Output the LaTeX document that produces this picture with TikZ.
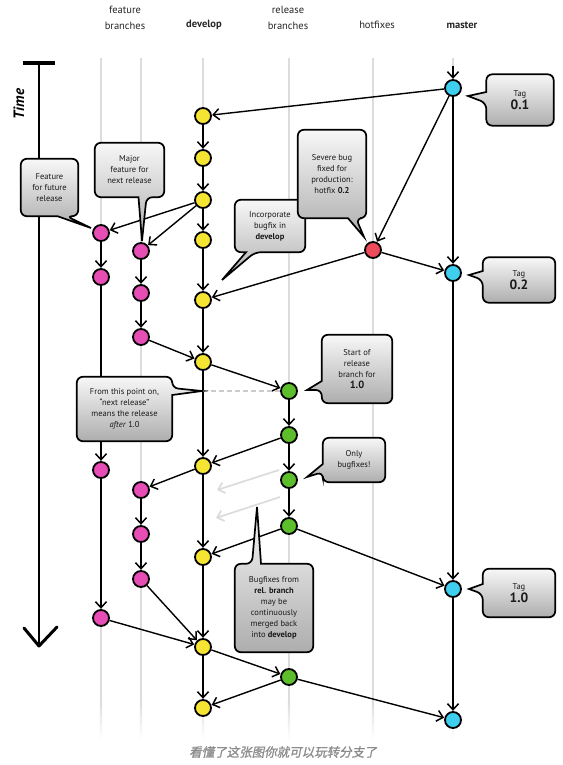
\documentclass[tikz,border=0pt]{standalone}
\usepackage{fontspec}
\setmainfont{PT Sans}
\newfontfamily\cjkfont[FakeSlant=0.2,FakeBold=1.2]{Noto Sans CJK SC}
\usetikzlibrary{arrows.meta,calc}
\definecolor{cyel}{HTML}{F6E432}
\definecolor{cmag}{HTML}{E64DB5}
\definecolor{cgrn}{HTML}{5DBE2C}
\definecolor{ccya}{HTML}{3ECFEE}
\definecolor{cred}{HTML}{EC4B5B}
\definecolor{lanec}{HTML}{DCDCDC}
\pgfdeclarelayer{graph}
\pgfdeclarelayer{cshape}
\pgfsetlayers{graph,cshape,main}
% callout outlines: name, base offset 1, base offset 2, tip
\newcommand\cbL[4]{\path[cbox] (#1.north) [rounded corners=6pt] -- (#1.north east) -- (#1.south east) -- (#1.south west) -- ($(#1.west)+(0,#3)$) [sharp corners] -- #4 -- ($(#1.west)+(0,#2)$) [rounded corners=6pt] -- (#1.north west) -- cycle;}
\newcommand\cbR[4]{\path[cbox] (#1.north) [rounded corners=6pt] -- (#1.north east) -- ($(#1.east)+(0,#2)$) [sharp corners] -- #4 -- ($(#1.east)+(0,#3)$) [rounded corners=6pt] -- (#1.south east) -- (#1.south west) -- (#1.north west) -- cycle;}
\newcommand\cbB[4]{\path[cbox] (#1.north) [rounded corners=6pt] -- (#1.north east) -- (#1.south east) -- ($(#1.south)+(#3,0)$) [sharp corners] -- #4 -- ($(#1.south)+(#2,0)$) [rounded corners=6pt] -- (#1.south west) -- (#1.north west) -- cycle;}
\newcommand\cbT[4]{\path[cbox] (#1.south) [rounded corners=6pt] -- (#1.south west) -- (#1.north west) -- ($(#1.north)+(#2,0)$) [sharp corners] -- #4 -- ($(#1.north)+(#3,0)$) [rounded corners=6pt] -- (#1.north east) -- (#1.south east) -- cycle;}
\begin{document}
\begin{tikzpicture}[x=1pt,y=-1pt,
  commit/.style={circle, draw=black, line width=1.8pt, minimum size=16pt, inner sep=0pt},
  dv/.style={commit, fill=cyel},
  ft/.style={commit, fill=cmag},
  rl/.style={commit, fill=cgrn},
  ms/.style={commit, fill=ccya},
  hx/.style={commit, fill=cred},
  flow/.style={line width=1.4pt, -{Straight Barb[length=6pt,width=11pt,line width=1.5pt]}, shorten >=0.3pt},
  ghost/.style={draw=black!14, line width=1.7pt, -{Straight Barb[length=6pt,width=11pt,line width=1.7pt]}},
  cbox/.style={draw=black, line width=1.7pt, top color=black!3, bottom color=black!32},
  ctext/.style={font=\fontsize{8.5}{11}\selectfont, align=center, inner sep=0pt, text=black!90},
  hdr/.style={font=\fontsize{10.5}{15.5}\selectfont, align=center, text=black!85}]
\useasboundingbox (0,0) rectangle (562,765);

\begin{pgfonlayer}{graph}
% lanes
\foreach \x in {101,141,203,289,373,453}{
  \fill[lanec] ({\x-1.2},58) rectangle ({\x+1.2},700);
  \shade[top color=lanec,bottom color=white] ({\x-1.2},700) rectangle ({\x+1.2},740);
}
% time arrow
\coordinate (t0) at (39,63);
\coordinate (t1) at (39,646);
\coordinate (tb1) at (23,63);
\coordinate (tb2) at (55,63);
\coordinate (tl) at (24,628);
\coordinate (tr) at (57,627);
\draw[line width=2.8pt] (t0) -- (t1);
\draw[line width=4.5pt] (tb1) -- (tb2);
\draw[line width=3pt, line join=round, line cap=round] (tl) -- (t1) -- (tr);

% commits
\node[ms] (m0) at (453,88) {};
\node[ms] (m1) at (453,273) {};
\node[ms] (m2) at (453,589) {};
\node[ms] (m3) at (453,720) {};
\node[hx] (h0) at (373,250) {};
\node[dv] (d0) at (203,116) {};
\node[dv] (d1) at (203,158) {};
\node[dv] (d2) at (203,200) {};
\node[dv] (d3) at (203,240) {};
\node[dv] (d4) at (203,300) {};
\node[dv] (d5) at (203,362) {};
\node[dv] (d6) at (203,466) {};
\node[dv] (d7) at (203,557) {};
\node[dv] (d8) at (203,647) {};
\node[dv] (d9) at (203,708) {};
\node[ft] (f1a) at (101,233) {};
\node[ft] (f1b) at (101,277) {};
\node[ft] (f1c) at (101,470) {};
\node[ft] (f1d) at (101,618) {};
\node[ft] (f2a) at (141,251) {};
\node[ft] (f2b) at (141,293) {};
\node[ft] (f2c) at (141,337) {};
\node[ft] (f2d) at (141,490) {};
\node[ft] (f2e) at (141,534) {};
\node[ft] (f2f) at (141,579) {};
\node[rl] (r0) at (289,391) {};
\node[rl] (r1) at (289,435) {};
\node[rl] (r2) at (289,480) {};
\node[rl] (r3) at (289,526) {};
\node[rl] (r4) at (289,677) {};

\coordinate (mtop) at (453,66);
\coordinate (dv) at (203,391);
\coordinate (ga1s) at (279,470);
\coordinate (ga1e) at (217,490);
\coordinate (ga2s) at (280,497);
\coordinate (ga2e) at (216,518);

% connectors
\draw[flow] (mtop) -- (m0);
\draw[flow] (m0) -- (d0);
\draw[flow] (m0) -- (h0);
\draw[flow] (m0) -- (m1);
\draw[flow] (h0) -- (m1);
\draw[flow] (h0) -- (d4);
\foreach \a/\b in {d0/d1,d1/d2,d2/d3,d3/d4,d4/d5,d5/d6,d6/d7,d7/d8,d8/d9}
  \draw[flow] (\a) -- (\b);
\draw[flow] (d2) -- (f1a);
\draw[flow] (d2) -- (f2a);
\draw[flow] (f1a) -- (f1b);
\draw[flow] (f1b) -- (f1c);
\draw[flow] (f1c) -- (f1d);
\draw[flow] (f1d) -- (d8);
\draw[flow] (f2a) -- (f2b);
\draw[flow] (f2b) -- (f2c);
\draw[flow] (f2c) -- (d5);
\draw[flow] (d6) -- (f2d);
\draw[flow] (f2d) -- (f2e);
\draw[flow] (f2e) -- (f2f);
\draw[flow] (f2f) -- (d8);
\draw[flow] (d5) -- (r0);
\draw[black!20, line width=1.3pt, dash pattern=on 5pt off 3pt] (dv) -- (r0);
\draw[flow] (r0) -- (r1);
\draw[flow] (r1) -- (r2);
\draw[flow] (r2) -- (r3);
\draw[flow] (r1) -- (d6);
\draw[ghost] (ga1s) -- (ga1e);
\draw[ghost] (ga2s) -- (ga2e);
\draw[flow] (r3) -- (d7);
\draw[flow] (r3) -- (m2);
\draw[flow] (m1) -- (m2);
\draw[flow] (d8) -- (r4);
\draw[flow] (r4) -- (d9);
\draw[flow] (r4) -- (m3);
\draw[flow] (m2) -- (m3);
\end{pgfonlayer}

% headers
\node[hdr] (hfeat) at (125,18) {feature\\branches};
\node[hdr, font=\bfseries\fontsize{10.5}{15.5}\selectfont] (hdev) at (204,25) {develop};
\node[hdr] (hrel) at (288,18) {release\\branches};
\node[hdr] (hhot) at (377,25) {hotfixes};
\node[hdr, font=\bfseries\fontsize{10.5}{15.5}\selectfont] (hmas) at (462,25) {master};
\node[rotate=90, font=\bfseries\itshape\fontsize{15}{16}\selectfont] (time) at (19,104) {Time};

% callout texts
\node[ctext, minimum width=67pt, minimum height=51pt] (tg1) at (520,100) {{\fontsize{8.5}{9}\selectfont Tag}\\{\bfseries\fontsize{13.5}{15}\selectfont 0.1}};
\node[ctext, minimum width=72pt, minimum height=45pt] (tg2) at (519,280) {{\fontsize{8.5}{9}\selectfont Tag}\\{\bfseries\fontsize{13.5}{15}\selectfont 0.2}};
\node[ctext, minimum width=72pt, minimum height=48pt] (tg3) at (519,593) {{\fontsize{8.5}{9}\selectfont Tag}\\{\bfseries\fontsize{13.5}{15}\selectfont 1.0}};
\node[ctext, minimum width=57pt, minimum height=57pt] (cfut) at (49.5,187.5) {Feature\\for future\\release};
\node[ctext, minimum width=69pt, minimum height=54pt] (cmaj) at (129.5,170) {Major\\feature for\\next release};
\node[ctext, minimum width=70pt, minimum height=52pt] (cinc) at (270,226) {Incorporate\\bugfix in\\\textbf{develop}};
\node[ctext, minimum width=68pt, minimum height=88pt] (csev) at (332,174) {Severe bug\\fixed for\\production:\\hotfix \textbf{0.2}};
\node[ctext, minimum width=70pt, minimum height=68pt] (cstart) at (357,369) {Start of\\release\\branch for\\{\bfseries\fontsize{10.5}{12}\selectfont 1.0}};
\node[ctext, minimum width=62pt, minimum height=44pt] (conly) at (354,460) {Only\\bugfixes!};
\node[ctext, minimum width=95pt, minimum height=64pt] (cfrom) at (124.5,409) {From this point on,\\“next release”\\means the release\\\textit{after} 1.0};
\node[ctext, minimum width=78pt, minimum height=88pt] (cbug) at (274,608) {Bugfixes from\\\textbf{rel. branch}\\may be\\continuously\\merged back\\into \textbf{develop}};

% caption
\node[font=\cjkfont\fontsize{12.5}{14}\selectfont, text=black!45] (cap) at (283,752) {看懂了这张图你就可以玩转分支了};

\begin{pgfonlayer}{cshape}
\cbL{tg1}{-8}{3}{(468,96)}
\cbL{tg2}{-9}{0}{(469,275)}
\cbL{tg3}{-9}{1}{(469,589)}
\cbB{cfut}{8}{17}{(91,228)}
\cbB{cmaj}{9}{17}{(142,241)}
\cbB{cinc}{-24}{-15}{(222,280)}
\cbB{csev}{16}{24}{(364,237)}
\cbL{cstart}{12}{21}{(307,390)}
\cbL{conly}{4}{12}{(307,477)}
\cbR{cfrom}{-21}{-14}{(202,391)}
\cbT{cbug}{-22}{-13}{(257,507)}
\end{pgfonlayer}
\end{tikzpicture}
\end{document}
